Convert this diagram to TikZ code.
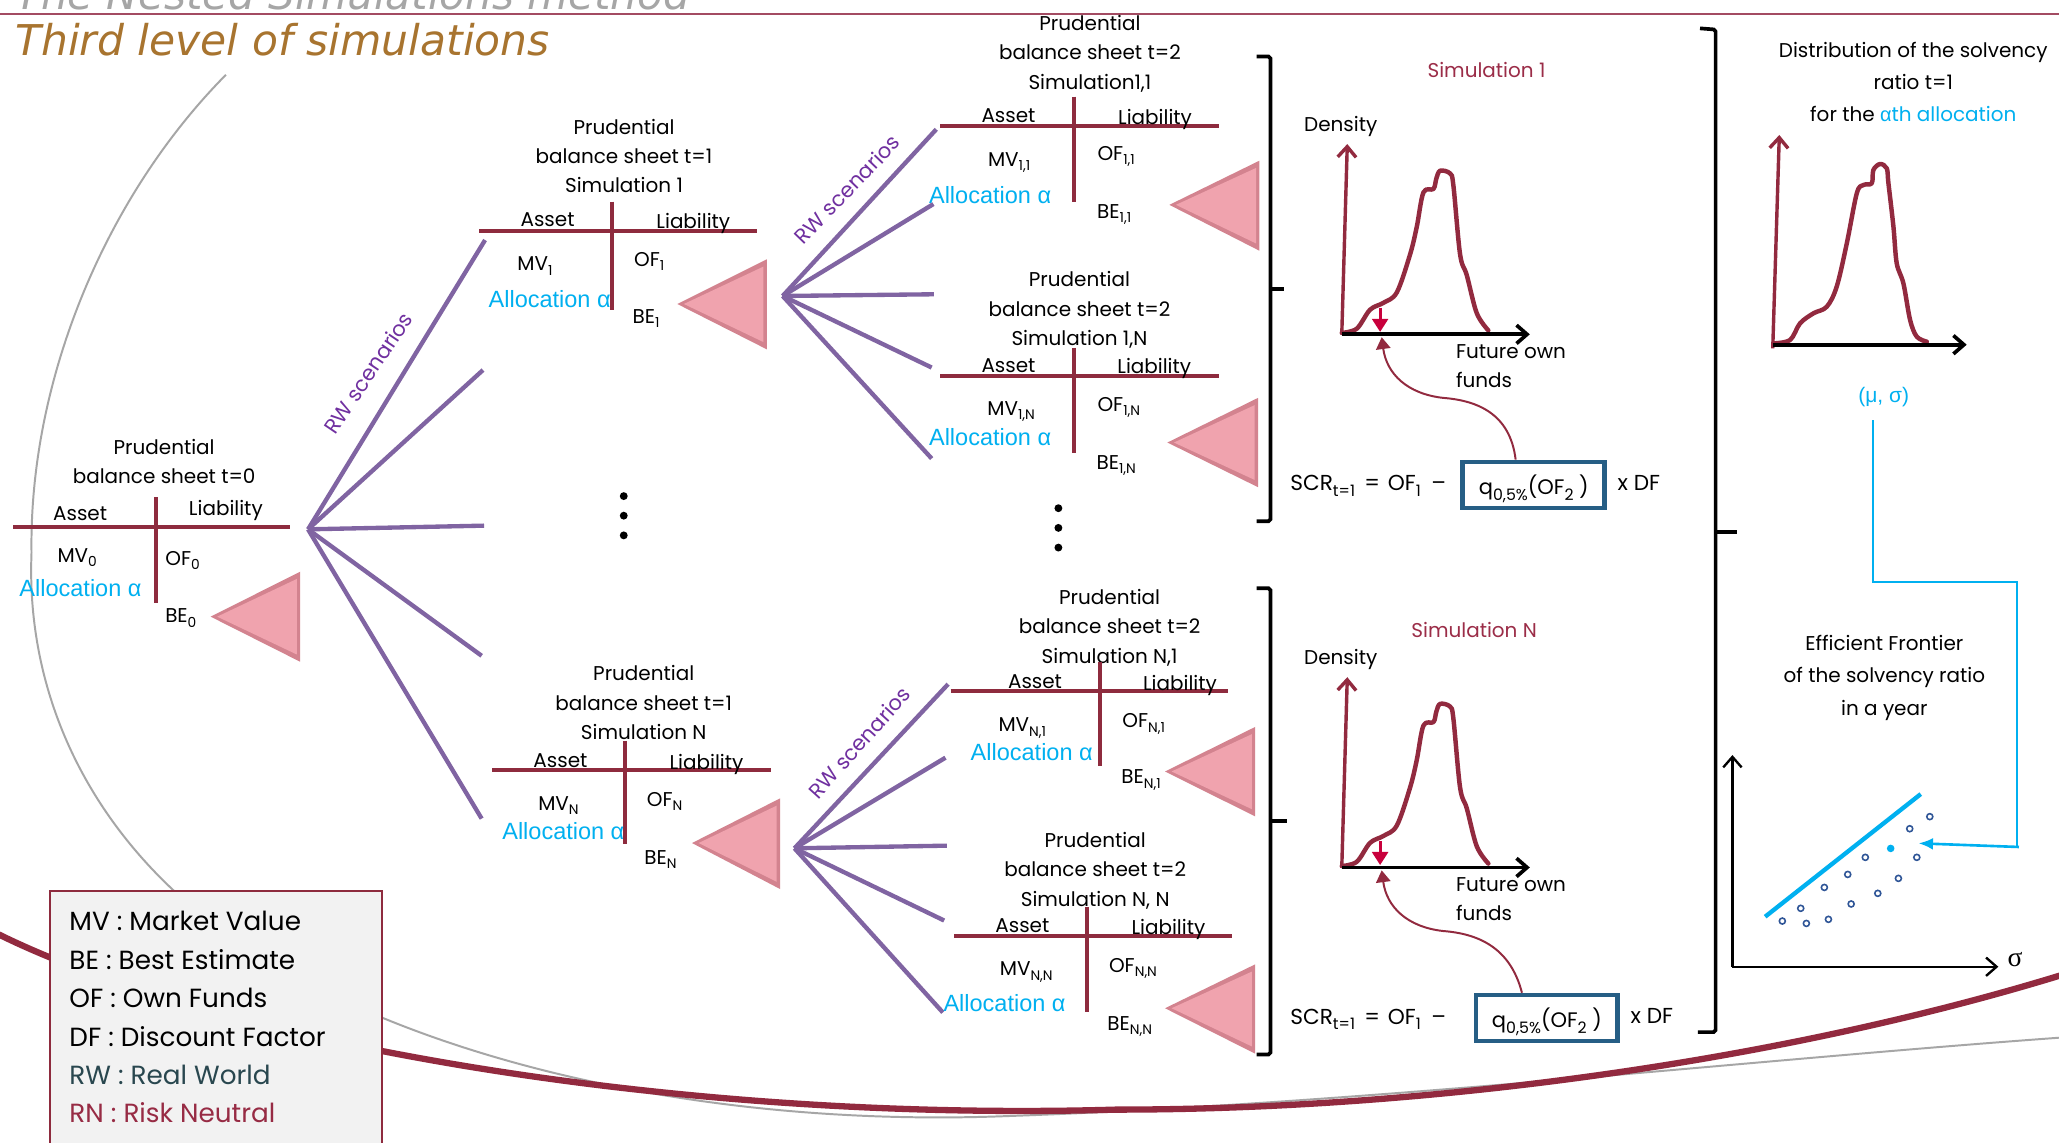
\documentclass[tikz,border=0pt]{standalone}
\usepackage{fontspec}
\setmainfont{Poppins}
\newfontfamily\arialf{Liberation Sans}
\newfontfamily\serifgr{Liberation Serif}
\newfontfamily\titlef{DejaVu Sans}
\usetikzlibrary{arrows.meta}

\definecolor{sheetred}{HTML}{8E2B3E}
\definecolor{curvered}{HTML}{922A3F}
\definecolor{fanpurple}{HTML}{8064A2}
\definecolor{rwpurple}{HTML}{7030A0}
\definecolor{allocblue}{HTML}{00B0F0}
\definecolor{boxblue}{HTML}{265E85}
\definecolor{tripink}{HTML}{F0A3AE}
\definecolor{triedge}{HTML}{D3838F}
\definecolor{titlebrown}{HTML}{A8742F}
\definecolor{arcgray}{HTML}{A6A6A6}
\definecolor{headline}{HTML}{A34B62}
\definecolor{dotblue}{HTML}{2F5597}
\definecolor{crimson}{HTML}{C8003C}
\definecolor{rwtext}{HTML}{29474F}
\definecolor{rntext}{HTML}{972B44}
\definecolor{legfill}{HTML}{F2F2F2}
\definecolor{simred}{HTML}{9B2D48}

% subscripts for sheet entries and for the SCR formula
\newcommand\subs[1]{\smash{\raisebox{-3.2pt}{\fontsize{10.5}{11}\selectfont #1}}}
\newcommand\subf[1]{\smash{\raisebox{-4.5pt}{\fontsize{12}{12}\selectfont #1}}}

% T-shaped balance sheet: name, x left, x right, x of the stem, y of the bar, stem top, stem bottom
\newcommand\bsline[7]{%
  \coordinate (#1L) at (#2,#5);
  \coordinate (#1R) at (#3,#5);
  \coordinate (#1T) at (#4,#6);
  \coordinate (#1B) at (#4,#7);
  \draw[tline] (#1L) -- (#1R);
  \draw[tline] (#1T) -- (#1B);
}

% bevelled pink triangle: name, tip x, tip y, right x, top y, bottom y
\newcommand\pinktri[6]{%
  \coordinate (#1tip) at (#2,#3);
  \coordinate (#1tt) at (#4,#5);
  \coordinate (#1tb) at (#4,#6);
  \fill[triedge] (#1tip) -- (#1tt) -- (#1tb) -- cycle;
  \fill[tripink] ({#2+5},#3) -- ({#4-2.5},{#5+5.5}) -- ({#4-2.5},{#6-5.5}) -- cycle;
}

% density panel with SCR formula: prefix, title, title x, title y, box shift, start shift of the curved arrow
\newcommand\simpanel[6]{%
  \node[simttl] (#1title) at (#3,#4) {#2};
  \node[txt] (#1dens) at (1021,94) {Density};
  \coordinate (#1o) at (1021.8,254.6);
  \coordinate (#1ytop) at (1026,109.7);
  \coordinate (#1xend) at (1165,254.6);
  \draw[dens] plot[smooth, tension=0.55] coordinates {(1021.8,253.5) (1033.2,250.3) (1043.3,235.9) (1053.5,230.6) (1063.7,222.7) (1073.8,193.8) (1078.9,172.8) (1084,146.5) (1091.6,143.9) (1093.8,136) (1096.7,130) (1104.3,132.1) (1106.8,141.3) (1111.9,193.8) (1117,209.6) (1124.6,238.5) (1133.4,251.6)};
  \draw[yax] (#1o) -- (#1ytop);
  \draw[xax] (#1o) -- (#1xend);
  \coordinate (#1qa) at (1051,234.5);
  \coordinate (#1qb) at (1051,252.8);
  \draw[redarr] (#1qa) -- (#1qb);
  \node[txt, align=left, anchor=west] (#1fof) at (1108.6,278.6) {Future own\\funds};
  \node[frm, anchor=west] (#1scr) at (982.4,368) {SCR\subf{t=1}\hspace{7pt}=\hspace{6pt}OF\subf{1}\hspace{8pt}–};
  \node[qbox] (#1q) at ({1168+#5},369.3) {q\subf{0,5\%}(OF\subf{2} )};
  \node[frm] (#1df) at ({1248+#5},368) {x DF};
  \coordinate (#1tip) at (1052.2,256.8);
  \coordinate (#1mid) at (1099,303);
  \draw[curarr] ([xshift=#6pt]#1q.north) .. controls (1150,315) and (1125,305) .. (#1mid) .. controls (1072,300) and (1056,285) .. (#1tip);
}

\begin{document}
\begin{tikzpicture}[x=1pt,y=-1pt,
  txt/.style={inner sep=0pt, text depth=0pt, font=\fontsize{15.2}{22.3}\selectfont},
  ttl/.style={txt, align=center},
  alloc/.style={inner sep=0pt, text depth=0pt, text=allocblue, font=\arialf\fontsize{17.9}{20}\selectfont},
  rwlab/.style={inner sep=0pt, text depth=0pt, text=rwpurple, font=\fontsize{16}{18}\selectfont},
  tline/.style={draw=sheetred, line width=3pt},
  fan/.style={draw=fanpurple, line width=3.3pt},
  brk/.style={draw=black, line width=2.8pt, rounded corners=1.5pt},
  yax/.style={draw=curvered, line width=2.6pt, -{Straight Barb[length=8pt,width=14pt]}},
  xax/.style={draw=black, line width=2.8pt, -{Straight Barb[length=8pt,width=14pt]}},
  dens/.style={draw=curvered, line width=3.4pt, line join=round, line cap=round},
  redarr/.style={draw=crimson, line width=2.4pt, -{Triangle[length=10pt,width=12pt]}},
  curarr/.style={draw=curvered, line width=1.5pt, -{Triangle[length=9pt,width=11pt]}},
  qbox/.style={draw=boxblue, line width=3.6pt, inner sep=0pt, minimum width=108pt, minimum height=35pt, text depth=0pt, font=\fontsize{16}{18}\selectfont},
  frm/.style={inner sep=0pt, text depth=0pt, font=\fontsize{16.5}{18}\selectfont},
  simttl/.style={txt, text=simred},
  bluecon/.style={draw=allocblue, line width=1.4pt},
  bluearr/.style={draw=allocblue, line width=2pt, -{Latex[length=11pt,width=9pt]}},
  frontier/.style={draw=allocblue, line width=3.3pt},
  opendot/.style={circle, draw=dotblue, line width=1.2pt, inner sep=0pt, minimum size=4.6pt},
  filldot/.style={circle, fill=allocblue, inner sep=0pt, minimum size=5.8pt},
  fax/.style={draw=black, line width=1.8pt, -{Straight Barb[length=8pt,width=14pt]}},
  blackdot/.style={circle, fill=black, inner sep=0pt, minimum size=6pt},
  legtxt/.style={inner sep=0pt, align=left, font=\fontsize{20}{29.3}\selectfont},
  legbox/.style={draw=sheetred, line width=1.2pt, fill=legfill, inner sep=0pt, minimum width=253pt, minimum height=210pt, anchor=north west},
  arcline/.style={draw=arcgray, line width=1.5pt},
  band/.style={draw=curvered, line width=4.8pt},
  headrule/.style={draw=headline, line width=1.6pt}
]
\useasboundingbox (0,0) rectangle (1568,870);
\fill[white] (0,0) rectangle (1568,870);

% ---------- headline ----------
\node[anchor=base west, inner sep=0pt, text=arcgray, font=\titlef\itshape\fontsize{32}{32}\selectfont] (oldtitle) at (11.5,7.6) {The Nested Simulations method};
\coordinate (hr1) at (0,11);
\coordinate (hr2) at (1568,11);
\draw[headrule] (hr1) -- (hr2);
\node[anchor=base west, inner sep=0pt, text=titlebrown, font=\titlef\itshape\fontsize{32.3}{32}\selectfont] (maintitle) at (11.5,41.9) {Third level of simulations};

% ---------- background swooshes ----------
\draw[arcline] (172,57) .. controls (80,150) and (22,290) .. (24,421) .. controls (20,520) and (60,610) .. (131,677) .. controls (250,790) and (500,860) .. (765,850) .. controls (1050,840) and (1350,805) .. (1600,788);
\draw[band] (-10,707) .. controls (150,790) and (500,855) .. (850,845) .. controls (1100,845) and (1380,805) .. (1600,733);

% ---------- balance sheet t=0 ----------
\node[ttl] (s0title) at (125,351.4) {Prudential\\balance sheet t=0};
\bsline{s0}{10}{221}{118.5}{401.5}{378.5}{459}
\node[txt] (s0asset) at (61,391) {Asset};
\node[txt] (s0liab) at (172,386.5) {Liability};
\node[txt] (s0mv) at (58.8,422.7) {MV\subs{0}};
\node[txt] (s0of) at (139,425.2) {OF\subs{0}};
\node[alloc] (s0alloc) at (61.3,448) {Allocation α};
\node[txt] (s0be) at (137.7,469.1) {BE\subs{0}};
\pinktri{s0}{160.4}{469.6}{228.5}{435.4}{503.9}

% ---------- first fan of RW scenarios ----------
\coordinate (f0) at (234.6,403.1);
\foreach \x/\y [count=\i] in {369.4/182.8, 367.8/281.8, 368.6/400.3, 366.8/499.4, 366.8/623.4}{
  \coordinate (f0e\i) at (\x,\y);
  \draw[fan] (f0) -- (f0e\i);
}
\node[rwlab, rotate=56] (rw0) at (280.3,283.9) {RW scenarios};
\node[blackdot] (dA1) at (475,377.8) {};
\node[blackdot] (dA2) at (475,392.7) {};
\node[blackdot] (dA3) at (475,407.7) {};

% ---------- balance sheet t=1, simulation 1 ----------
\node[ttl] (s1title) at (475.2,118.8) {Prudential\\balance sheet t=1\\Simulation 1};
\bsline{s1}{365}{576.7}{466.3}{175.7}{153.6}{236}
\node[txt] (s1asset) at (417,167.5) {Asset};
\node[txt] (s1liab) at (528,168.3) {Liability};
\node[txt] (s1mv) at (407.4,201) {MV\subs{1}};
\node[txt] (s1of) at (494.4,197.5) {OF\subs{1}};
\node[alloc] (s1alloc) at (418.6,228) {Allocation α};
\node[txt] (s1be) at (492,240.7) {BE\subs{1}};
\pinktri{s1}{515.8}{231.5}{583.9}{197.5}{266}

% ---------- balance sheet t=1, simulation N ----------
\node[ttl] (sNtitle) at (490.2,535) {Prudential\\balance sheet t=1\\Simulation N};
\bsline{sN}{374.7}{587.2}{476}{586.4}{564.1}{643}
\node[txt] (sNasset) at (426.8,579) {Asset};
\node[txt] (sNliab) at (538,580.3) {Liability};
\node[txt] (sNmv) at (425.3,611.7) {MV\subs{N}};
\node[txt] (sNof) at (506.2,609) {OF\subs{N}};
\node[alloc] (sNalloc) at (429,633) {Allocation α};
\node[txt] (sNbe) at (503,653) {BE\subs{N}};
\pinktri{sN}{527}{642}{594}{608}{677}

% ---------- second-level fans ----------
\coordinate (f1) at (596,225.4);
\foreach \x/\y [count=\i] in {713/98.5, 710.8/155.4, 711.2/224.1, 709.5/279.9, 709.5/349.2}{
  \coordinate (f1e\i) at (\x,\y);
  \draw[fan] (f1) -- (f1e\i);
}
\node[rwlab, rotate=46] (rw1) at (645,144) {RW scenarios};

\coordinate (f2) at (605,646);
\foreach \x/\y [count=\i] in {722/521, 720/577, 721/644, 719/701, 718/771}{
  \coordinate (f2e\i) at (\x,\y);
  \draw[fan] (f2) -- (f2e\i);
}
\node[rwlab, rotate=48] (rw2) at (654.3,565.5) {RW scenarios};

% ---------- balance sheets t=2 ----------
\node[ttl] (s11title) at (830,39.8) {Prudential\\balance sheet t=2\\Simulation1,1};
\bsline{s11}{716}{928}{818}{95.7}{73.6}{153.6}
\node[txt] (s11asset) at (768,88.3) {Asset};
\node[txt] (s11liab) at (879.6,88.8) {Liability};
\node[txt] (s11mv) at (768.5,121.3) {MV\subs{1,1}};
\node[txt] (s11of) at (850,116.8) {OF\subs{1,1}};
\node[alloc] (s11alloc) at (754,148.5) {Allocation α};
\node[txt] (s11be) at (848.5,161) {BE\subs{1,1}};
\pinktri{s11}{890.5}{156}{959}{122.4}{190.9}

\node[ttl] (s1Ntitle) at (822,235) {Prudential\\balance sheet t=2\\Simulation 1,N};
\bsline{s1N}{716}{928}{818}{286}{265}{345}
\node[txt] (s1Nasset) at (768,278.5) {Asset};
\node[txt] (s1Nliab) at (879,279) {Liability};
\node[txt] (s1Nmv) at (770,311) {MV\subs{1,N}};
\node[txt] (s1Nof) at (852,308) {OF\subs{1,N}};
\node[alloc] (s1Nalloc) at (754,333) {Allocation α};
\node[txt] (s1Nbe) at (850,352) {BE\subs{1,N}};
\pinktri{s1N}{889}{337}{958}{303}{371}

\node[ttl] (sN1title) at (845,477) {Prudential\\balance sheet t=2\\Simulation N,1};
\bsline{sN1}{724}{935.5}{837.7}{526.3}{504.5}{583.7}
\node[txt] (sN1asset) at (788.2,519) {Asset};
\node[txt] (sN1liab) at (898.6,519.8) {Liability};
\node[txt] (sN1mv) at (778.5,552) {MV\subs{N,1}};
\node[txt] (sN1of) at (871,548.9) {OF\subs{N,1}};
\node[alloc] (sN1alloc) at (785.7,572.7) {Allocation α};
\node[txt] (sN1be) at (869,591.6) {BE\subs{N,1}};
\pinktri{sN1}{887.2}{587.5}{955.8}{553.6}{621.7}

\node[ttl] (sNNtitle) at (834,662) {Prudential\\balance sheet t=2\\Simulation N, N};
\bsline{sNN}{726.5}{938}{827.6}{712.6}{690.8}{770.5}
\node[txt] (sNNasset) at (778.6,705.2) {Asset};
\node[txt] (sNNliab) at (889.8,706) {Liability};
\node[txt] (sNNmv) at (781.5,737.9) {MV\subs{N,N}};
\node[txt] (sNNof) at (862.8,735.2) {OF\subs{N,N}};
\node[alloc] (sNNalloc) at (765,763.7) {Allocation α};
\node[txt] (sNNbe) at (860.3,779.5) {BE\subs{N,N}};
\pinktri{sNN}{887.2}{767.8}{955.8}{734.4}{802.4}

\node[blackdot] (dB1) at (806,387) {};
\node[blackdot] (dB2) at (806,402) {};
\node[blackdot] (dB3) at (806,417) {};

% ---------- brackets ----------
\draw[brk] (957,43) -- (967.5,43) -- (967.5,397) -- (957,397);
\draw[brk] (967.5,220) -- (978,220);
\draw[brk] (957,448) -- (967.5,448) -- (967.5,803) -- (957,803);
\draw[brk] (967.5,625) -- (980,625);
\draw[brk] (1294.6,21.6) -- (1306.5,22.5) -- (1306.5,786) -- (1293,786);
\draw[brk] (1306.5,405) -- (1323,405);

% ---------- density panels ----------
\simpanel{a}{Simulation 1}{1132}{53.3}{0}{-13.8}
\begin{scope}[shift={(0,406)}]
  \simpanel{b}{Simulation N}{1122.6}{73.4}{10}{-19}
\end{scope}

% ---------- distribution of the solvency ratio ----------
\node[txt, align=center, font=\fontsize{15.2}{24.6}\selectfont] (dist) at (1457,62.2) {Distribution of the solvency\\ratio t=1\\for the \textcolor{allocblue}{{\arialf α}th allocation}};
\coordinate (ro) at (1350.5,262.5);
\coordinate (rytop) at (1355,102.8);
\coordinate (rxend) at (1497.7,262.5);
\draw[dens] plot[smooth, tension=0.55] coordinates {(1350.5,261.5) (1363.2,258.9) (1370.8,246.2) (1381,238.6) (1391.1,233.6) (1398.7,218.3) (1406.4,185.3) (1414,147.2) (1419,140.9) (1425.4,139.6) (1426.6,129.5) (1431.7,124.9) (1436.8,128.2) (1438.1,139.6) (1441.9,172.6) (1444.4,200.5) (1449.5,215.8) (1454.6,243.7) (1459.7,256.4) (1467.3,260.2)};
\draw[yax] (1350,265.3) -- (rytop);
\draw[xax] (ro) -- (rxend);
\node[txt, text=allocblue, font=\arialf\fontsize{16}{18}\selectfont] (musig) at (1434.5,300.8) {(μ, σ)};

% ---------- efficient frontier ----------
\node[txt, align=center, font=\fontsize{15.2}{24.7}\selectfont] (eff) at (1435,514) {Efficient Frontier\\of the solvency ratio\\in a year};
\coordinate (fo) at (1319.3,736.2);
\coordinate (fy) at (1319.3,575);
\coordinate (fx) at (1521.8,736.2);
\draw[fax] (fo) -- (fy);
\draw[fax] (fo) -- (fx);
\node[inner sep=0pt, font=\serifgr\fontsize{21}{21}\selectfont] (sigma) at (1534.5,731) {σ};
\coordinate (fr1) at (1344.2,698.1);
\coordinate (fr2) at (1462.7,604.7);
\draw[frontier] (fr1) -- (fr2);
\foreach \x/\y [count=\i] in {1357.3/701.4, 1375.6/703.2, 1392.4/700.1, 1371.3/691.7, 1389.3/675.8, 1407.1/665.9, 1409.7/688.4, 1430/680.3, 1445.7/668.9, 1420.5/652.9, 1459.7/652.9, 1454.3/631.1, 1469.6/621.9}{
  \node[opendot] (pf\i) at (\x,\y) {};
}
\node[filldot] (best) at (1439.8,646.1) {};
\coordinate (bc0) at (1426.6,320);
\coordinate (bc1) at (1426.6,443);
\coordinate (bc2) at (1535.8,443);
\coordinate (bc3) at (1535.8,645);
\coordinate (bestR) at (1461,642.2);
\draw[bluecon] (bc0) -- (bc1) -- (bc2) -- (bc3);
\draw[bluearr] (1537.5,645) -- (bestR);

% ---------- legend ----------
\node[legbox] (legend) at (37.4,677.8) {};
\node[legtxt, anchor=west] (legtext) at (52.7,774.6) {MV : Market Value\\BE : Best Estimate\\OF : Own Funds\\DF : Discount Factor\\\textcolor{rwtext}{RW : Real World}\\\textcolor{rntext}{RN : Risk Neutral}};
\end{tikzpicture}
\end{document}
